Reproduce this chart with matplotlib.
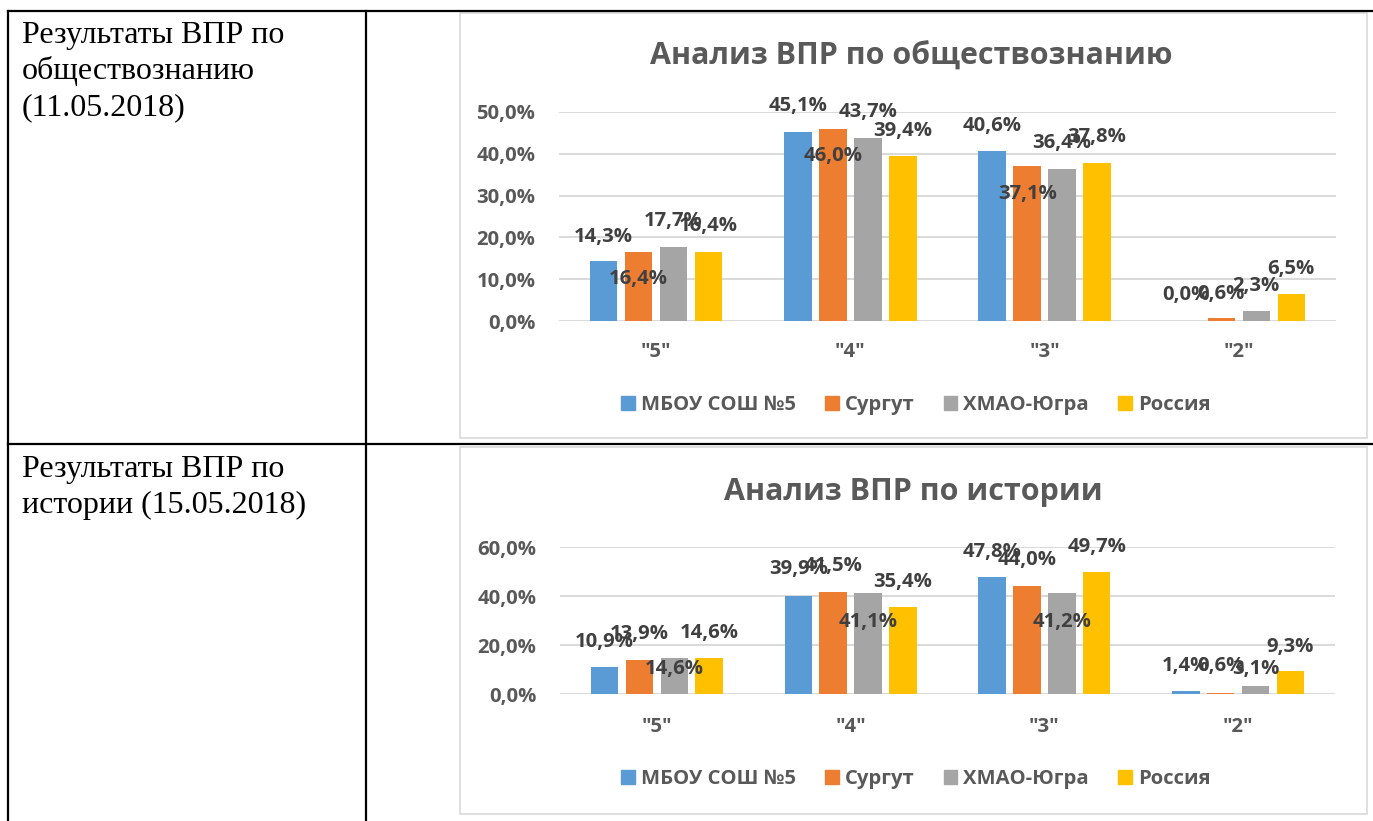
import numpy as np
import matplotlib.pyplot as plt
from matplotlib.lines import Line2D
from matplotlib.patches import Rectangle, Patch

plt.rcParams['font.family'] = ['Open Sans', 'DejaVu Sans']

categories = ['"5"', '"4"', '"3"', '"2"']
series_names = ['МБОУ СОШ №5', 'Сургут', 'ХМАО-Югра', 'Россия']
colors = ['#5B9BD5', '#ED7D31', '#A5A5A5', '#FFC000']

# обществознание, 11.05.2018
soc_school = [14.3, 45.1, 40.6, 0.0]
soc_surgut = [16.4, 46.0, 37.1, 0.6]
soc_hmao = [17.7, 43.7, 36.4, 2.3]
soc_russia = [16.4, 39.4, 37.8, 6.5]

# история, 15.05.2018
hist_school = [10.9, 39.9, 47.8, 1.4]
hist_surgut = [13.9, 41.5, 44.0, 0.6]
hist_hmao = [14.6, 41.1, 41.2, 3.1]
hist_russia = [14.6, 35.4, 49.7, 9.3]

# label offsets from bar top, pixels (Excel moved some labels by hand)
soc_offsets = [[24, 26, 25, 26], [-27, -27, -28, 24], [26, 26, 26, 25], [26, 25, 26, 25]]
hist_offsets = [[25, 27, 25, 25], [26, 26, 26, 27], [-11, -29, -29, 17], [25, 25, 25, 24]]

W, H = 1373, 821
fig = plt.figure(figsize=(W / 100, H / 100), dpi=100)


def fx(px):
    return px / W


def fy(py):
    return 1 - py / H


# chart frames (behind the axes)
for y0, y1 in [(13, 438), (447, 814)]:
    fig.add_artist(Rectangle((fx(460), fy(y1)), (1367 - 460) / W, (y1 - y0) / H,
                             transform=fig.transFigure, facecolor='white',
                             edgecolor='#D9D9D9', lw=1.2, zorder=-5))

# table lines
tbl = dict(color='black', lw=1.6, transform=fig.transFigure, zorder=10)
fig.add_artist(Line2D([fx(8), fx(1373)], [fy(11), fy(11)], **tbl))
fig.add_artist(Line2D([fx(8), fx(1373)], [fy(444), fy(444)], **tbl))
fig.add_artist(Line2D([fx(8), fx(8)], [fy(11), fy(821)], **tbl))
fig.add_artist(Line2D([fx(366), fx(366)], [fy(11), fy(821)], **tbl))

# left column text, one line per baseline
cell_lines = [('Результаты ВПР по', 43), ('обществознанию', 79), ('(11.05.2018)', 115),
              ('Результаты ВПР по', 477), ('истории (15.05.2018)', 513)]
for txt, base in cell_lines:
    fig.text(fx(22), fy(base), txt, family='Liberation Serif', fontsize=23,
             va='baseline', ha='left', color='black')


def draw_chart(rect, data, offsets, ymax, ystep, title, title_xy, legend_y, xpad):
    ax = fig.add_axes(rect)
    x = np.arange(len(categories))
    step, width = 0.18, 0.142
    for i, vals in enumerate(data):
        pos = x + (i - 1.5) * step
        ax.bar(pos, vals, width, color=colors[i], label=series_names[i], zorder=3)
        for j, v in enumerate(vals):
            ax.annotate(f'{v:.1f}%'.replace('.', ','), (pos[j], v),
                        xytext=(0, offsets[i][j]), textcoords='offset pixels',
                        ha='center', va='center', fontsize=14.6,
                        fontweight='bold', color='#404040', zorder=5,
                        annotation_clip=False)
    ticks = np.arange(0, ymax + 0.1, ystep)
    ax.set_xlim(-0.5, 3.5)
    ax.set_ylim(0, ymax)
    ax.set_yticks(ticks)
    ax.set_yticklabels([f'{t:.1f}%'.replace('.', ',') for t in ticks])
    ax.set_xticks(x)
    ax.set_xticklabels(categories)
    ax.grid(axis='y', color='#D9D9D9', lw=1.4, zorder=0)
    ax.set_facecolor('none')
    for s in ax.spines.values():
        s.set_visible(False)
    ax.tick_params(axis='y', length=0, pad=17, labelsize=14.6, labelcolor='#595959')
    ax.tick_params(axis='x', length=0, pad=xpad, labelsize=14.6, labelcolor='#595959')
    for lab in ax.get_xticklabels() + ax.get_yticklabels():
        lab.set_fontweight('bold')
    fig.text(fx(title_xy[0]), fy(title_xy[1]), title, ha='center', va='center',
             fontsize=21.9, fontweight='bold', color='#595959')
    handles = [Patch(color=c) for c in colors]
    leg = ax.legend(handles, series_names, loc='center', ncol=4,
                    bbox_to_anchor=(fx(916), fy(legend_y)), bbox_transform=fig.transFigure,
                    frameon=False, fontsize=14.6, handlelength=0.66, handleheight=0.66,
                    handletextpad=0.3, columnspacing=1.45)
    for t in leg.get_texts():
        t.set_fontweight('bold')
        t.set_color('#595959')
    return ax


draw_chart([fx(559), fy(321), (1336 - 559) / W, (321 - 112) / H],
           [soc_school, soc_surgut, soc_hmao, soc_russia], soc_offsets,
           50, 10, 'Анализ ВПР по обществознанию', (911, 57), 405, 15)
draw_chart([fx(560), fy(694), (1335 - 560) / W, (694 - 547) / H],
           [hist_school, hist_surgut, hist_hmao, hist_russia], hist_offsets,
           60, 20, 'Анализ ВПР по истории', (913, 492), 779, 16.5)

fig.savefig('out.png', dpi=100)
